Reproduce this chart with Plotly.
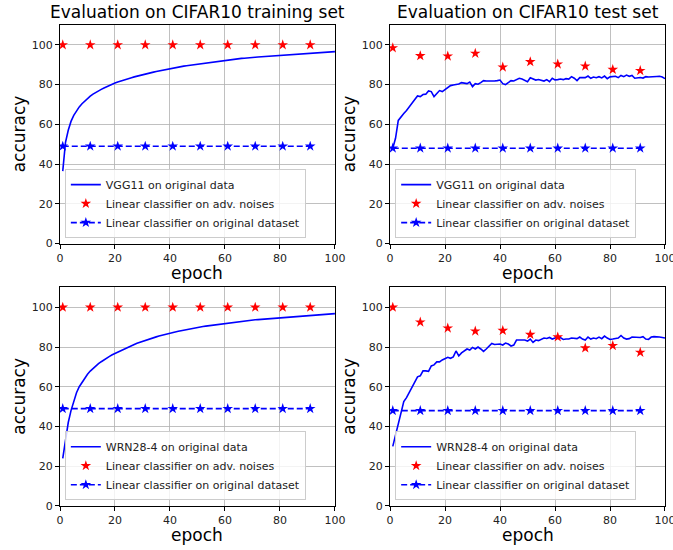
import plotly.graph_objects as go
from plotly.subplots import make_subplots

epochs = list(range(1, 101))
probe_epochs = [1, 11, 21, 31, 41, 51, 61, 71, 81, 91]

vgg_train = [36.5, 51, 57, 61.5, 64.5, 67, 68.8, 70.4, 71.8, 73,
             74.2, 75.2, 76.1, 76.9, 77.6, 78.3, 79, 79.6, 80.2, 80.8,
             81.3, 81.8, 82.3, 82.7, 83.1, 83.5, 83.9, 84.3, 84.7, 85.1,
             85.4, 85.7, 86, 86.3, 86.6, 86.9, 87.2, 87.5, 87.8, 88.1,
             88.3, 88.6, 88.8, 89.1, 89.3, 89.5, 89.7, 89.9, 90.1, 90.3,
             90.5, 90.7, 90.9, 91.1, 91.3, 91.5, 91.7, 91.9, 92.1, 92.3,
             92.4, 92.6, 92.7, 92.9, 93, 93.2, 93.3, 93.5, 93.6, 93.7,
             93.8, 93.9, 94, 94.2, 94.3, 94.4, 94.5, 94.6, 94.8, 94.9,
             95, 95.1, 95.2, 95.3, 95.4, 95.5, 95.6, 95.7, 95.8, 95.9,
             96, 96.1, 96.1, 96.2, 96.3, 96.4, 96.4, 96.5, 96.6, 96.6]

vgg_test = [48, 53, 62, 64, 65.5, 67, 69, 71, 72.5, 74.3,
            74, 75, 75.2, 76.8, 76.5, 74, 75.5, 77, 76.5, 77.5,
            78.5, 79.5, 79.8, 80, 80.3, 81, 80.8, 80.5, 81.3, 79,
            80.5, 80.2, 81, 82, 81.8, 81.8, 81.6, 81.8, 82, 82.3,
            80.5, 80, 81, 82, 81.8, 82.7, 83.2, 82.8, 82, 81.5,
            83.5, 83, 82.3, 82.6, 82, 81.8, 82.5, 81.5, 83.2, 82.4,
            82.5, 82.8, 82.5, 83, 82.8, 84, 83.2, 82, 83.5, 83.6,
            83.5, 84.3, 83.2, 83.8, 83.5, 84, 83.4, 84.3, 83, 83.9,
            84, 84.2, 83.5, 84.6, 84, 84.8, 84.2, 84.6, 83.2, 83.5,
            83.6, 83.3, 84, 83.8, 84, 84, 84.1, 84.2, 83.8, 83]

wrn_train = [24, 34, 42, 48, 53, 57, 60, 62.3, 64.4, 66.3,
             67.9, 69.3, 70.5, 71.6, 72.6, 73.6, 74.5, 75.3, 76.1, 76.8,
             77.5, 78.2, 78.9, 79.5, 80.1, 80.7, 81.3, 81.9, 82.4, 82.9,
             83.4, 83.9, 84.3, 84.7, 85.1, 85.5, 85.9, 86.3, 86.7, 87,
             87.3, 87.6, 87.9, 88.2, 88.5, 88.8, 89.1, 89.3, 89.6, 89.8,
             90, 90.3, 90.5, 90.7, 90.9, 91.1, 91.3, 91.5, 91.7, 91.9,
             92.1, 92.3, 92.4, 92.6, 92.8, 92.9, 93.1, 93.2, 93.4, 93.5,
             93.7, 93.8, 93.9, 94.1, 94.2, 94.3, 94.4, 94.6, 94.7, 94.8,
             94.9, 95, 95.1, 95.2, 95.3, 95.4, 95.5, 95.6, 95.7, 95.8,
             95.9, 96, 96.1, 96.2, 96.3, 96.4, 96.5, 96.6, 96.7, 96.8]

wrn_test = [30, 36, 42, 48, 52.5, 54.5, 57, 60, 62, 65,
            65.5, 68, 68, 67.8, 70.5, 71, 72.5, 72.5, 73.5, 74,
            74.8, 74.3, 75, 78, 75.5, 77, 78, 79, 78.5, 79.8,
            79, 80, 79, 77.8, 79, 80.5, 81.8, 81.3, 81.5, 81.5,
            81, 82, 81.5, 80.5, 81, 83.5, 83.5, 83.5, 83.5, 83,
            84, 82.3, 83.5, 83.2, 84, 84.5, 84.3, 84.8, 84, 84.5,
            85.5, 84.5, 83.8, 84, 84, 84.5, 84.5, 84.2, 85, 84,
            83.5, 85, 84, 84.5, 84.2, 85, 84.2, 85.5, 84.5, 83.8,
            84, 84.2, 84.5, 85.8, 84.5, 84, 84.2, 85, 85, 85,
            84.8, 85.2, 84, 83.8, 85, 85.2, 85.2, 85, 84.8, 84.5]

adv_vgg_train = [100, 100, 100, 100, 100, 100, 100, 100, 100, 100]
orig_vgg_train = [49, 49, 49, 49, 49, 49, 49, 49, 49, 49]
adv_vgg_test = [98.5, 94.5, 94.3, 95.7, 88.8, 91.5, 90.3, 89.3, 87.6, 87]
orig_vgg_test = [48, 48, 48, 48, 48, 48, 48, 48, 48, 48]
adv_wrn_train = [100, 100, 100, 100, 100, 100, 100, 100, 100, 100]
orig_wrn_train = [49, 49, 49, 49, 49, 49, 49, 49, 49, 49]
adv_wrn_test = [100, 92.5, 89.5, 88, 88.3, 86.3, 85, 79.5, 80.7, 77.3]
orig_wrn_test = [48, 48, 48, 48, 48, 48, 48, 48, 48, 48]

titles = ["Evaluation on CIFAR10 training set", "Evaluation on CIFAR10 test set"]
ticks = [0, 20, 40, 60, 80, 100]

FONT = "DejaVu Sans"
BLUE = "#0000ff"
RED = "#ff0000"

fig = make_subplots(rows=2, cols=2, horizontal_spacing=0.091, vertical_spacing=0.091)

panels = [
    (1, 1, "VGG11 on original data", vgg_train, adv_vgg_train, orig_vgg_train, "legend"),
    (1, 2, "VGG11 on original data", vgg_test, adv_vgg_test, orig_vgg_test, "legend2"),
    (2, 1, "WRN28-4 on original data", wrn_train, adv_wrn_train, orig_wrn_train, "legend3"),
    (2, 2, "WRN28-4 on original data", wrn_test, adv_wrn_test, orig_wrn_test, "legend4"),
]

for r, c, name, curve, adv, orig, lg in panels:
    fig.add_trace(go.Scatter(x=epochs, y=curve, mode="lines", name=name,
                             line=dict(color=BLUE, width=1.6), legend=lg), row=r, col=c)
    fig.add_trace(go.Scatter(x=probe_epochs, y=adv, mode="markers",
                             name="Linear classifier on adv. noises",
                             marker=dict(symbol="star", color=RED, size=8, line=dict(width=0)),
                             legend=lg), row=r, col=c)
    fig.add_trace(go.Scatter(x=probe_epochs, y=orig, mode="lines+markers",
                             name="Linear classifier on original dataset",
                             line=dict(color=BLUE, width=1.6, dash="6px,3px"),
                             marker=dict(symbol="star", color=BLUE, size=8, line=dict(width=0)),
                             legend=lg), row=r, col=c)

axis_common = dict(showline=True, linecolor="black", linewidth=1, mirror=True,
                   showgrid=True, gridcolor="#b0b0b0", gridwidth=0.8,
                   ticks="outside", ticklen=4, tickcolor="black",
                   tickfont=dict(family=FONT, size=11, color="#222222"),
                   zeroline=False, automargin=False, ticklabeloverflow="allow")

for r in (1, 2):
    for c in (1, 2):
        fig.update_xaxes(range=[0, 100], tickvals=ticks, ticktext=[str(t) for t in ticks],
                         row=r, col=c, **axis_common)
        fig.update_yaxes(range=[0, 110], tickvals=ticks, ticktext=[str(t) for t in ticks],
                         row=r, col=c, **axis_common)

legend_style = dict(bgcolor="rgba(255,255,255,0.8)", bordercolor="#cccccc", borderwidth=1,
                    font=dict(family=FONT, size=11, color="#222222"),
                    xanchor="left", yanchor="bottom", tracegroupgap=0)

fig.update_layout(
    width=673, height=550,
    margin=dict(l=60, r=8, t=25, b=44),
    plot_bgcolor="white", paper_bgcolor="white",
    font=dict(family=FONT),
    showlegend=True,
    legend=dict(x=0.008, y=0.557, **legend_style),
    legend2=dict(x=0.554, y=0.557, **legend_style),
    legend3=dict(x=0.008, y=0.012, **legend_style),
    legend4=dict(x=0.554, y=0.012, **legend_style),
)

label_font = dict(family=FONT, size=17, color="black")
for i, t in enumerate(titles):
    fig.add_annotation(text=t, x=0.5, y=1, xref="x%s domain" % ("" if i == 0 else "2"),
                       yref="y%s domain" % ("" if i == 0 else "2"),
                       xanchor="center", yanchor="bottom", yshift=1, showarrow=False,
                       font=label_font)

for k in range(1, 5):
    suffix = "" if k == 1 else str(k)
    fig.add_annotation(text="epoch", x=0.5, y=0, xref="x%s domain" % suffix, yref="y%s domain" % suffix,
                       xanchor="center", yanchor="middle", yshift=-29, showarrow=False, font=label_font)
    fig.add_annotation(text="accuracy", x=0, y=0.5, xref="x%s domain" % suffix, yref="y%s domain" % suffix,
                       xanchor="center", yanchor="middle", xshift=-41, textangle=-90, showarrow=False,
                       font=label_font)

fig.write_html("out.html",
               config={"displayModeBar": False, "staticPlot": True},
               post_script="document.body.style.margin='0';document.body.style.padding='0';"
                           "document.documentElement.style.overflow='hidden';")
